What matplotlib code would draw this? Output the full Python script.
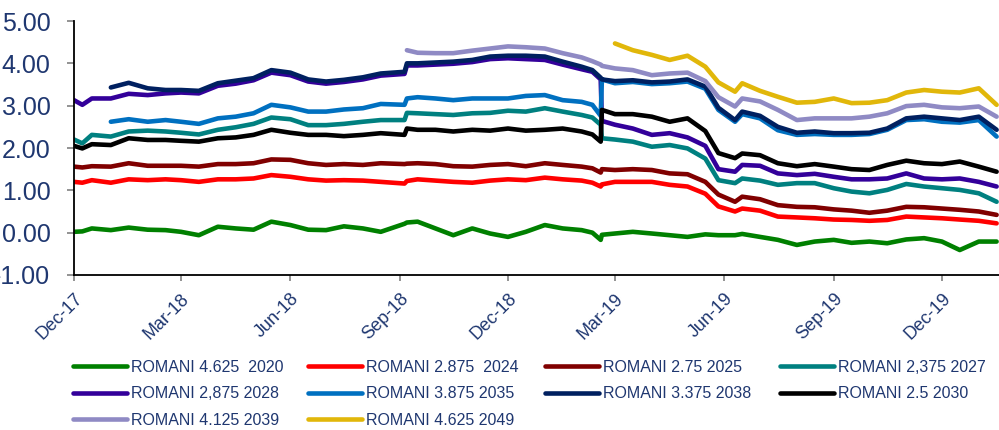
import numpy as np
import matplotlib.pyplot as plt
import matplotlib.dates as mdates
from matplotlib.ticker import FormatStrFormatter

plt.rcParams['font.family'] = ['Liberation Sans', 'DejaVu Sans']
plt.rcParams['axes.unicode_minus'] = False

# observation dates (shared by all series)
dates = np.array([
    '2017-12-01', '2017-12-08', '2017-12-16',
    '2018-01-01', '2018-01-16', '2018-02-01', '2018-02-16', '2018-03-01', '2018-03-16',
    '2018-04-01', '2018-04-16', '2018-05-01', '2018-05-16', '2018-06-01', '2018-06-16',
    '2018-07-01', '2018-07-16', '2018-08-01', '2018-08-16',
    '2018-09-05', '2018-09-07', '2018-09-16',
    '2018-10-01', '2018-10-16', '2018-11-01', '2018-11-16', '2018-12-01', '2018-12-16',
    '2019-01-01', '2019-01-16',
    '2019-02-01', '2019-02-10', '2019-02-17', '2019-02-18',
    '2019-03-01', '2019-03-16', '2019-04-01', '2019-04-16', '2019-05-01', '2019-05-16', '2019-05-27',
    '2019-06-10', '2019-06-16',
    '2019-07-01', '2019-07-16', '2019-08-01', '2019-08-16', '2019-09-01', '2019-09-16',
    '2019-10-01', '2019-10-16', '2019-11-01', '2019-11-16', '2019-12-01', '2019-12-16',
    '2020-01-01', '2020-01-16',
], dtype='datetime64[D]')

N = None

# yields (%)
romani_2020 = [0.02, 0.03, 0.10,
               0.06, 0.12, 0.07, 0.06, 0.02, -0.06, 0.14, 0.10, 0.07, 0.26, 0.18, 0.07, 0.06, 0.15, 0.10, 0.02,
               0.21, 0.24, 0.26,
               0.10, -0.06, 0.10, -0.02, -0.10, 0.02,
               0.18, 0.10,
               0.06, 0.00, -0.17, -0.05,
               -0.02, 0.02, -0.02, -0.06, -0.10, -0.04, -0.06,
               -0.06, -0.03,
               -0.10, -0.17, -0.29, -0.21, -0.17, -0.24, -0.21, -0.25, -0.16, -0.13, -0.21, -0.41,
               -0.21, -0.21]
romani_2024 = [1.20, 1.18, 1.24,
               1.18, 1.26, 1.24, 1.26, 1.24, 1.20, 1.26, 1.26, 1.28, 1.36, 1.32, 1.26, 1.23, 1.24, 1.23, 1.20,
               1.16, 1.22, 1.26,
               1.23, 1.20, 1.18, 1.23, 1.26, 1.24,
               1.30, 1.26,
               1.23, 1.18, 1.09, 1.14,
               1.20, 1.20, 1.20, 1.13, 1.09, 0.92, 0.62,
               0.50, 0.57,
               0.52, 0.38, 0.36, 0.34, 0.31, 0.30, 0.28, 0.30, 0.38, 0.36, 0.34, 0.31,
               0.28, 0.22]
romani_2025 = [1.56, 1.54, 1.57,
               1.56, 1.64, 1.58, 1.58, 1.58, 1.56, 1.62, 1.62, 1.64, 1.73, 1.72, 1.64, 1.60, 1.62, 1.60, 1.64,
               1.62, 1.63, 1.64,
               1.62, 1.57, 1.56, 1.60, 1.62, 1.57,
               1.64, 1.60,
               1.56, 1.52, 1.42, 1.50,
               1.48, 1.50, 1.48, 1.40, 1.38, 1.20, 0.90,
               0.73, 0.85,
               0.79, 0.65, 0.61, 0.60, 0.55, 0.52, 0.47, 0.52, 0.61, 0.60, 0.57, 0.54,
               0.50, 0.42]
romani_2027 = [2.20, 2.11, 2.31,
               2.27, 2.39, 2.41, 2.39, 2.36, 2.32, 2.43, 2.49, 2.57, 2.72, 2.68, 2.54, 2.54, 2.57, 2.62, 2.66,
               2.66, 2.83, 2.82,
               2.80, 2.78, 2.82, 2.83, 2.88, 2.86,
               2.94, 2.86,
               2.78, 2.72, 2.55, 2.23,
               2.20, 2.15, 2.03, 2.07, 1.99, 1.75, 1.24,
               1.17, 1.28,
               1.23, 1.13, 1.17, 1.17, 1.05, 0.97, 0.93, 1.01, 1.15, 1.09, 1.05, 1.01,
               0.93, 0.73]
romani_2028 = [3.13, 3.02, 3.17,
               3.17, 3.28, 3.25, 3.29, 3.31, 3.29, 3.47, 3.52, 3.60, 3.78, 3.72, 3.57, 3.52, 3.56, 3.62, 3.71,
               3.75, 3.95, 3.95,
               3.97, 3.99, 4.03, 4.10, 4.12, 4.10,
               4.08, 3.97,
               3.86, 3.80, 3.62, 2.64,
               2.55, 2.46, 2.31, 2.35, 2.25, 2.05, 1.50,
               1.44, 1.60,
               1.58, 1.40, 1.36, 1.39, 1.32, 1.26, 1.26, 1.28, 1.40, 1.28, 1.26, 1.28,
               1.20, 1.09]
romani_2035 = [N, N, N,
               2.62, 2.68, 2.62, 2.66, 2.62, 2.57, 2.70, 2.74, 2.82, 3.02, 2.96, 2.86, 2.86, 2.91, 2.94, 3.04,
               3.02, 3.17, 3.20,
               3.17, 3.13, 3.17, 3.17, 3.17, 3.23,
               3.25, 3.13,
               3.09, 3.02, 2.76, 3.62,
               3.53, 3.56, 3.51, 3.53, 3.57, 3.40, 2.90,
               2.62, 2.80,
               2.70, 2.42, 2.31, 2.33, 2.31, 2.31, 2.33, 2.43, 2.66, 2.68, 2.62, 2.60,
               2.66, 2.27]
romani_2038 = [N, N, N,
               3.43, 3.54, 3.41, 3.37, 3.37, 3.35, 3.53, 3.59, 3.65, 3.84, 3.78, 3.62, 3.57, 3.61, 3.67, 3.76,
               3.80, 4.00, 4.00,
               4.02, 4.04, 4.08, 4.16, 4.18, 4.18,
               4.16, 4.04,
               3.92, 3.84, 3.66, 3.62,
               3.58, 3.60, 3.55, 3.57, 3.62, 3.45, 2.95,
               2.66, 2.86,
               2.76, 2.50, 2.36, 2.39, 2.35, 2.35, 2.36, 2.46, 2.70, 2.74, 2.70, 2.66,
               2.74, 2.43]
romani_2030 = [2.05, 1.99, 2.09,
               2.07, 2.23, 2.19, 2.19, 2.17, 2.15, 2.23, 2.25, 2.31, 2.43, 2.36, 2.31, 2.31, 2.28, 2.31, 2.35,
               2.31, 2.46, 2.43,
               2.43, 2.39, 2.43, 2.41, 2.46, 2.41,
               2.43, 2.46,
               2.39, 2.32, 2.15, 2.90,
               2.80, 2.80, 2.74, 2.62, 2.70, 2.40, 1.88,
               1.76, 1.87,
               1.83, 1.64, 1.57, 1.62, 1.56, 1.50, 1.48, 1.60, 1.70, 1.64, 1.62, 1.68,
               1.56, 1.44]
romani_2039 = [N, N, N,
               N, N, N, N, N, N, N, N, N, N, N, N, N, N, N, N,
               N, 4.31, 4.25,
               4.24, 4.24, 4.30, 4.35, 4.40, 4.38,
               4.35, 4.24,
               4.14, 4.05, 3.97, 3.94,
               3.88, 3.84, 3.72, 3.76, 3.78, 3.58, 3.20,
               2.98, 3.17,
               3.10, 2.90, 2.66, 2.70, 2.70, 2.70, 2.74, 2.82, 2.99, 3.02, 2.96, 2.94,
               2.98, 2.74]
romani_2049 = [N, N, N,
               N, N, N, N, N, N, N, N, N, N, N, N, N, N, N, N,
               N, N, N,
               N, N, N, N, N, N,
               N, N,
               N, N, N, N,
               4.47, 4.31, 4.20, 4.08, 4.18, 3.92, 3.55,
               3.33, 3.53,
               3.35, 3.21, 3.07, 3.09, 3.17, 3.06, 3.07, 3.13, 3.31, 3.37, 3.33, 3.31,
               3.41, 3.02]

labels = ['ROMANI 4.625  2020', 'ROMANI 2.875  2024', 'ROMANI 2.75 2025', 'ROMANI 2,375 2027',
          'ROMANI 2,875 2028', 'ROMANI 3.875 2035', 'ROMANI 3.375 2038', 'ROMANI 2.5 2030',
          'ROMANI 4.125 2039', 'ROMANI 4.625 2049']
series = [romani_2020, romani_2024, romani_2025, romani_2027, romani_2028,
          romani_2035, romani_2038, romani_2030, romani_2039, romani_2049]
colors = ['#008000', '#FF0000', '#800000', '#008080', '#33009A',
          '#0070C0', '#002060', '#000000', '#8F8AC4', '#E1B70A']

navy = '#1F3770'

fig = plt.figure(figsize=(9.99, 4.30), dpi=100)
ax = fig.add_axes([74 / 999, 1 - 275 / 430, 925 / 999, 254 / 430])

handles = []
for lab, vals, col in zip(labels, series, colors):
    h, = ax.plot(dates, np.array(vals, dtype=float), color=col, lw=3.3,
                 solid_capstyle='round', solid_joinstyle='round', label=lab)
    handles.append(h)

ax.set_ylim(-1, 5)
ax.set_yticks(np.arange(-1, 6, 1))
ax.yaxis.set_major_formatter(FormatStrFormatter('%.2f'))
ax.set_xlim(np.datetime64('2017-12-01'), np.datetime64('2020-01-18'))
ax.xaxis.set_major_locator(mdates.MonthLocator(bymonth=[3, 6, 9, 12]))
ax.xaxis.set_major_formatter(mdates.DateFormatter('%b-%y'))

for s in ['top', 'right']:
    ax.spines[s].set_visible(False)
for s in ['left', 'bottom']:
    ax.spines[s].set_linewidth(1.3)
    ax.spines[s].set_color('black')

ax.tick_params(axis='y', length=5, width=1.2, color='#808080', pad=12,
               labelsize=18, labelcolor=navy)
ax.tick_params(axis='x', length=4, width=1.2, color='#808080', pad=7,
               labelsize=13, labelcolor=navy)
plt.setp(ax.get_xticklabels(), rotation=45, ha='right', va='top', rotation_mode='anchor')

# legend: four fixed-width columns, rows filled left to right
col_x = [73, 308, 545, 780]
for c in range(4):
    idx = list(range(c, len(labels), 4))
    leg = fig.legend([handles[i] for i in idx], [labels[i] for i in idx],
                     loc='upper left', bbox_to_anchor=(col_x[c] / 999, 1 - 360 / 430),
                     bbox_transform=fig.transFigure, frameon=False, borderpad=0,
                     borderaxespad=0, handlelength=3.4, handletextpad=0.25,
                     labelspacing=0.72, fontsize=11.5)
    for t in leg.get_texts():
        t.set_color(navy)
    for ln in leg.get_lines():
        ln.set_linewidth(3.3)

fig.savefig('out.png', dpi=100)
